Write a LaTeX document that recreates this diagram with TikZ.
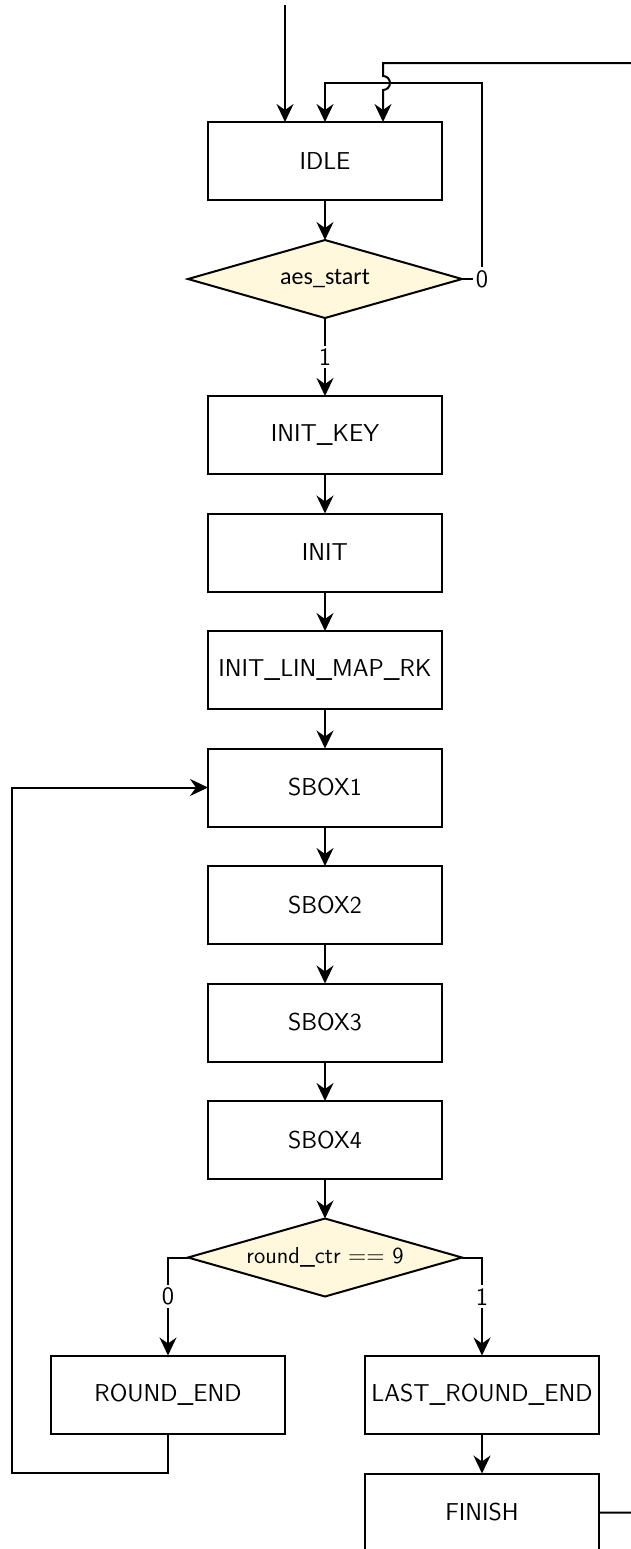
\documentclass[tikz,border=0pt]{standalone}
\usepackage{fontspec}
\newfontfamily\condfont{Carlito}
\usepackage{tikz}
\usetikzlibrary{shapes.geometric, arrows.meta, calc, positioning}
\definecolor{decfill}{RGB}{255,248,220}
\tikzstyle{block} = [rectangle, line width=1pt, outer sep=0pt, inner xsep=1pt, minimum width=117pt, minimum height=39pt, text centered, draw=black, font=\fontsize{12.2}{14.6}\selectfont\sffamily]
\tikzstyle{decision} = [diamond, line width=1pt, outer sep=0pt, aspect=3.5, minimum width=137pt, minimum height=39pt, inner sep=0pt, draw=black, fill=decfill, font=\fontsize{11.5}{13.8}\selectfont\sffamily]
\tikzstyle{lbl} = [fill=white, inner sep=1.5pt, font=\fontsize{12.5}{15}\selectfont\sffamily]
\tikzstyle{arrow} = [line width=1pt, -{Stealth[length=9pt, width=8.5pt, inset=3pt]}]
\tikzstyle{line} = [line width=1pt]
\begin{document}
\begin{tikzpicture}[x=0.5pt, y=-0.5pt, node distance = 19.75pt]
	\clip (0,0) rectangle (631,1549);
	\useasboundingbox (0,0) rectangle (631,1549);

	\node (Idle) [block] at (325,161) {IDLE};
	\node (AesStart) [decision, below = 20pt of Idle] {\condfont\fontsize{12}{14}\selectfont aes\_start};
	\node (InitKey) [block, below = 39pt of AesStart] {INIT\_KEY};
	\node (Init) [block, below = of InitKey] {INIT};
	\node (InitLinMap) [block, below = of Init] {INIT\_LIN\_MAP\_RK};
	\node (Sbox1) [block, below = of InitLinMap] {SBOX1};
	\node (Sbox2) [block, below = of Sbox1] {SBOX2};
	\node (Sbox3) [block, below = of Sbox2] {SBOX3};
	\node (Sbox4) [block, below = of Sbox3] {SBOX4};
	\node (RoundCheck) [decision, below = of Sbox4] {round\_ctr $==$ 9};
	\node (RoundEnd) [block, below = 29.5pt of RoundCheck, xshift=-78.5pt] {ROUND\_END};
	\node (LastRoundEnd) [block, below = 29.5pt of RoundCheck, xshift=78.5pt] {LAST\_ROUND\_END};
	\node (Finish) [block, below = 20pt of LastRoundEnd] {FINISH};

	\coordinate (Input) at ($(Idle.north)+(-40,-117)$);
	\coordinate (StartRight) at ($(AesStart.east)+(20,0)$);
	\coordinate (TopRight) at ($(Idle.north)+(58,-59)$);
	\coordinate (LoopLeft) at ($(Sbox1.west)+(-196,0)$);

	\draw [arrow] (Input) -- (Input |- Idle.north);
	\draw [arrow] (Idle) -- (AesStart);
	\draw [arrow] (AesStart.east) -- (StartRight) node[lbl]{0} |- ($(Idle.north)+(0,-39)$) -- (Idle.north);
	\draw [arrow] (AesStart) -- node[lbl]{1} (InitKey);
	\draw [arrow] (InitKey) -- (Init);
	\draw [arrow] (Init) -- (InitLinMap);
	\draw [arrow] (InitLinMap) -- (Sbox1);
	\draw [arrow] (Sbox1) -- (Sbox2);
	\draw [arrow] (Sbox2) -- (Sbox3);
	\draw [arrow] (Sbox3) -- (Sbox4);
	\draw [arrow] (Sbox4) -- (RoundCheck);
	\draw [arrow] (RoundCheck.west) -| node[lbl, pos=0.7]{0} (RoundEnd.north);
	\draw [arrow] (RoundCheck.east) -| node[lbl, pos=0.7]{1} (LastRoundEnd.north);
	\draw [arrow] (RoundEnd.south) -- ++(0,39) -| (LoopLeft) -- (Sbox1.west);
	\draw [arrow] (LastRoundEnd) -- (Finish);
	\draw [arrow] (Finish.east) -- ++(60,0) |- (TopRight) -- ($(TopRight)+(0,13)$)
		arc[start angle=90, end angle=-90, radius=3.5pt] -- (TopRight |- Idle.north);
\end{tikzpicture}
\end{document}
